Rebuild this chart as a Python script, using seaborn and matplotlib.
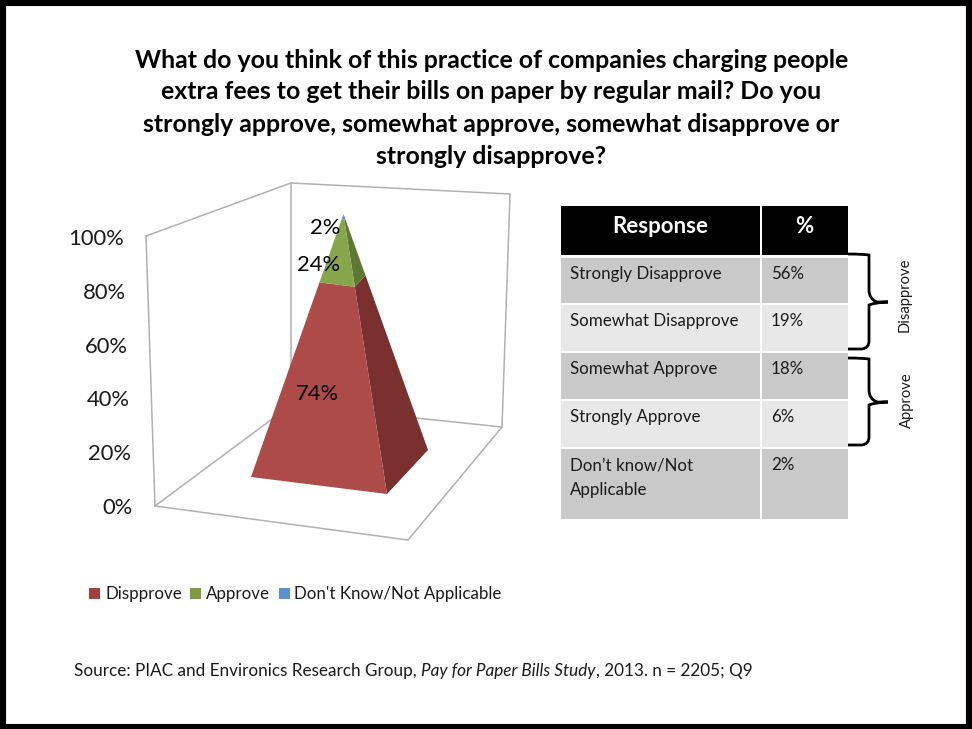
import matplotlib
matplotlib.use("Agg")
import matplotlib.pyplot as plt
import numpy as np
import seaborn as sns
from matplotlib.patches import PathPatch, Polygon, Rectangle
from matplotlib.path import Path

# Chart values
segments = ["Disapprove", "Approve", "Don't Know/Not Applicable"]
legend_labels = ["Dispprove", "Approve", "Don't Know/Not Applicable"]
shares = [74, 24, 2]
share_labels = ["74%", "24%", "2%"]
axis_ticks = [0, 20, 40, 60, 80, 100]

# Table contents
table_header = ["Response", "%"]
table_rows = ["Strongly Disapprove", "Somewhat Disapprove", "Somewhat Approve",
              "Strongly Approve", "Don\u2019t know/Not\nApplicable"]
table_values = ["56%", "19%", "18%", "6%", "2%"]

title_lines = [
    "What do you think of this practice of companies charging people",
    "extra fees to get their bills on paper by regular mail? Do you",
    "strongly approve, somewhat approve, somewhat disapprove or",
    "strongly disapprove?",
]

front_colors = sns.color_palette(["#ad4b49", "#87a64b", "#5b8fd3"])
side_colors = sns.color_palette(["#7a302e", "#5e7833", "#3f6596"])
legend_colors = sns.color_palette(["#a23f3d", "#7f9a3f", "#5b8fd3"])

sns.set_theme(style="white")
plt.rcParams["font.family"] = ["Lato", "DejaVu Sans"]

fig = plt.figure(figsize=(9.72, 7.29), dpi=100, facecolor="white")
ax = fig.add_axes([0, 0, 1, 1])
ax.set_xlim(0, 972)
ax.set_ylim(729, 0)
ax.axis("off")

# Page border
ax.add_patch(Rectangle((3, 2.5), 966, 724, fill=False, ec="black", lw=4.4))

for y, line in zip([60, 91, 124, 156], title_lines):
    ax.text(491.5, y, line, ha="center", va="center", fontsize=17.9,
            fontweight="bold", color="black")

# Projected wall and floor of the 3-D frame
grid = "#b0b0b0"
frame = {
    "wall_top_l": (146, 236), "wall_top_b": (291, 183), "wall_top_r": (510, 194),
    "floor_l": (155, 506), "floor_f": (408, 540), "floor_r": (502, 427), "floor_b": (291, 405),
}
for a, b in [("wall_top_l", "wall_top_b"), ("wall_top_b", "wall_top_r"),
             ("wall_top_l", "floor_l"), ("wall_top_b", "floor_b"),
             ("wall_top_r", "floor_r"), ("floor_l", "floor_f"),
             ("floor_f", "floor_r"), ("floor_r", "floor_b"), ("floor_b", "floor_l")]:
    ax.plot(*zip(frame[a], frame[b]), color=grid, lw=1.1, solid_capstyle="round", zorder=1)

# Pyramid geometry: slices run from the base corners to the apex in proportion to share
front_left = np.array([251.0, 477.0])
front_right = np.array([387.0, 494.0])
back_right = np.array([428.0, 450.0])
apex = np.array([343.5, 214.0])


def on_edge(corner, pct):
    return corner + (apex - corner) * pct / 100


cum = np.concatenate([[0], np.cumsum(shares)])
for i in range(len(shares)):
    lo, hi = cum[i], cum[i + 1]
    ax.add_patch(Polygon([on_edge(front_right, lo), on_edge(back_right, lo),
                          on_edge(back_right, hi), on_edge(front_right, hi)],
                         closed=True, fc=side_colors[i], ec="none", zorder=2))
    ax.add_patch(Polygon([on_edge(front_left, lo), on_edge(front_right, lo),
                          on_edge(front_right, hi), on_edge(front_left, hi)],
                         closed=True, fc=front_colors[i], ec="none", zorder=3))

for (x, y), text in zip([(317.5, 394), (319, 265), (325, 228)], share_labels):
    ax.text(x, y, text, ha="center", va="center", fontsize=15.8, color="black", zorder=5)

# Axis labels follow the slanted left wall
for t in axis_ticks:
    ax.text(np.interp(t, [0, 100], [133, 124]), np.interp(t, [0, 100], [508, 239]),
            f"{t}%", ha="right", va="center", fontsize=15.8, color="#1a1a1a")

# Legend
for x_box, x_txt, color, text in zip([89, 190, 279], [105, 206, 294], legend_colors, legend_labels):
    ax.add_patch(Rectangle((x_box, 588), 11, 11, fc=color, ec="none"))
    ax.text(x_txt, 594, text, ha="left", va="center", fontsize=12.15, color="#1a1a1a")

# Table
col_x = [(561, 760), (762, 848)]
ax.add_patch(Rectangle((561, 206), 199, 49, fc="black", ec="none"))
ax.add_patch(Rectangle((762, 206), 86, 49, fc="black", ec="none"))
ax.text(660, 226, table_header[0], ha="center", va="center", fontsize=16,
        fontweight="bold", color="white")
ax.text(804, 226, table_header[1], ha="center", va="center", fontsize=16,
        fontweight="bold", color="white")

row_edges = [(258, 303), (305, 351), (353, 399), (401, 447), (449, 519)]
row_fill = ["#c9c9c9", "#e8e8e8", "#c9c9c9", "#e8e8e8", "#c9c9c9"]
for (top, bottom), fill, name, value in zip(row_edges, row_fill, table_rows, table_values):
    for x0, x1 in col_x:
        ax.add_patch(Rectangle((x0, top), x1 - x0, bottom - top, fc=fill, ec="none"))
    ax.text(570, top + 8, name, ha="left", va="top", fontsize=12.2, color="#1a1a1a",
            linespacing=1.7)
    ax.text(771, top + 8, value, ha="left", va="top", fontsize=12.2, color="#1a1a1a")


def brace(top, tip, bottom):
    verts = [(848, top), (862, top), (869, top + 1), (869, top + 8),
             (869, tip - 12), (869, tip - 3), (877, tip), (888, tip),
             (877, tip), (869, tip + 3), (869, tip + 12),
             (869, bottom - 8), (869, bottom - 1), (862, bottom), (848, bottom)]
    codes = [Path.MOVETO, Path.CURVE3, Path.CURVE3, Path.LINETO,
             Path.LINETO, Path.CURVE3, Path.CURVE3, Path.LINETO,
             Path.CURVE3, Path.CURVE3, Path.LINETO,
             Path.LINETO, Path.CURVE3, Path.CURVE3, Path.LINETO]
    ax.add_patch(PathPatch(Path(verts, codes), fc="none", ec="black", lw=2.0))


brace(254, 302, 349)
brace(358, 402, 445)
ax.text(905, 295, "Disapprove", rotation=90, ha="center", va="center", fontsize=10.6, color="#1a1a1a")
ax.text(907, 400, "Approve", rotation=90, ha="center", va="center", fontsize=10.6, color="#1a1a1a")

# Source line with an italic study title
fig.canvas.draw()
renderer = fig.canvas.get_renderer()
x = 74
for text, style in [("Source: PIAC and Environics Research Group, ", "normal"),
                    ("Pay for Paper Bills Study", "italic"),
                    (", 2013. n = 2205; Q9", "normal")]:
    t = ax.text(x, 671, text, ha="left", va="center", fontsize=12.35, style=style, color="#1a1a1a")
    x += t.get_window_extent(renderer).width

fig.savefig("out.png", dpi=100)
